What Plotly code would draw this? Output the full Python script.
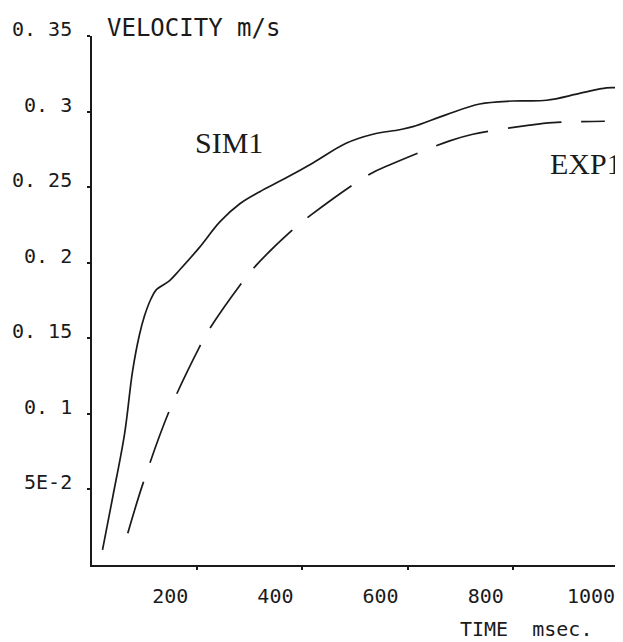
import plotly.graph_objects as go

# SIM1 (solid) – time in msec, velocity in m/s
sim_t = [20, 40, 62, 77, 90, 100, 112, 122, 147, 166, 204, 243, 281, 319, 363,
         420, 483, 534, 585, 610, 674, 737, 800, 864, 927, 978, 1000]
sim_v = [0.010, 0.046, 0.087, 0.128, 0.152, 0.165, 0.176, 0.182, 0.188, 0.195,
         0.210, 0.227, 0.239, 0.247, 0.255, 0.266, 0.279, 0.285, 0.288, 0.290,
         0.298, 0.305, 0.307, 0.3075, 0.312, 0.3157, 0.3157]

# EXP1 (dashed)
exp_t = [68, 97, 147, 204, 223, 281, 306, 379, 414, 525, 572, 680, 724, 832, 876, 975]
exp_v = [0.021, 0.054, 0.102, 0.144, 0.156, 0.185, 0.196, 0.221, 0.231, 0.258,
         0.2656, 0.2806, 0.285, 0.291, 0.2927, 0.2936]

x_ticks = [200, 400, 600, 800, 1000]
x_labels = ["200", "400", "600", "800", "1000"]
y_ticks = [0.05, 0.1, 0.15, 0.2, 0.25, 0.3, 0.35]
y_labels = ["5E-2", "0. 1", "0. 15", "0. 2", "0. 25", "0. 3", "0. 35"]

mono = "DejaVu Sans Mono"
ink = "#1a1a1a"

# page body has an 8px margin, so the figure is sized/placed to compensate
W, H = 615, 634
L, R, T, B = 84, 5, 28, 77
pw = W - L - R

fig = go.Figure()
fig.add_trace(go.Scatter(x=sim_t, y=sim_v, mode="lines", name="SIM1",
                         line=dict(color=ink, width=1.7, shape="spline")))
fig.add_trace(go.Scatter(x=exp_t, y=exp_v, mode="lines", name="EXP1",
                         line=dict(color=ink, width=1.7, shape="spline",
                                   dash="54px,20px")))

fig.add_annotation(x=261, y=0.2797, text="SIM1", showarrow=False,
                   font=dict(family="Liberation Serif", size=30, color=ink))
fig.add_annotation(x=940, y=0.2658, text="EXP1", showarrow=False,
                   font=dict(family="Liberation Serif", size=30, color=ink))

fig.add_annotation(xref="paper", yref="paper", x=(105 - 92) / pw, y=1.0,
                   yshift=8, xanchor="left", yanchor="middle",
                   text="VELOCITY m/s", showarrow=False,
                   font=dict(family=mono, size=24, color=ink))
fig.add_annotation(xref="paper", yref="paper", x=(458 - 92) / pw, y=0.0,
                   yshift=-64, xanchor="left", yanchor="middle",
                   text="TIME  msec.", showarrow=False,
                   font=dict(family=mono, size=20, color=ink))

fig.update_layout(
    width=W, height=H,
    margin=dict(l=L, r=R, t=T, b=B),
    paper_bgcolor="white", plot_bgcolor="white",
    showlegend=False,
    font=dict(family=mono, size=20, color=ink),
)
fig.update_xaxes(range=[0, 1000], tickvals=x_ticks, ticktext=x_labels,
                 automargin=False,
                 showgrid=False, zeroline=False, showline=True,
                 linecolor=ink, linewidth=1.6,
                 ticks="outside", ticklen=3, tickwidth=1.6, tickcolor=ink,
                 ticklabelshift=-27, ticklabelstandoff=9)
fig.update_yaxes(range=[0, 0.35], tickvals=y_ticks, ticktext=y_labels,
                 automargin=False,
                 showgrid=False, zeroline=False, showline=True,
                 linecolor=ink, linewidth=1.6,
                 ticks="outside", ticklen=3, tickwidth=1.6, tickcolor=ink,
                 tickfont=dict(size=20),
                 ticklabelshift=-7, ticklabelstandoff=11)

fig.write_html("out.html")
